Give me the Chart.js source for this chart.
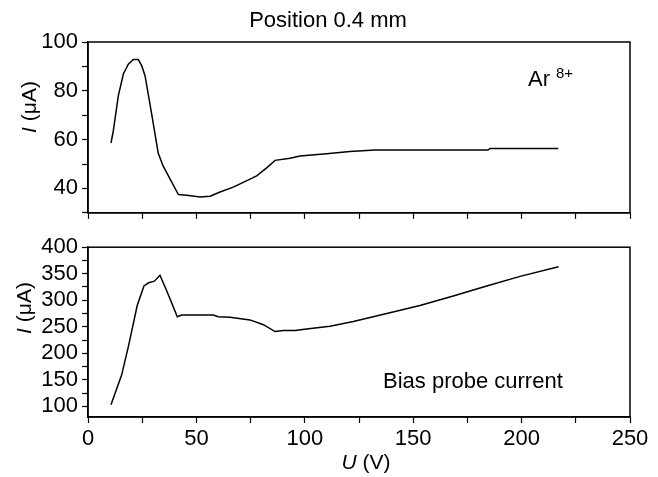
<!DOCTYPE html>
<html><head><meta charset="utf-8">
<script src="https://cdn.jsdelivr.net/npm/chart.js@4.4.1/dist/chart.umd.min.js"></script>
<style>
html,body{margin:0;padding:0;background:#fff;}
#wrap{position:relative;width:658px;height:477px;background:#fff;}
#c1{position:absolute;left:0;top:0;}
#c2{position:absolute;left:0;top:230px;}
</style></head><body>
<div id="wrap"><canvas id="c1" width="658" height="230"></canvas><canvas id="c2" width="658" height="247"></canvas></div>
<script>
// ---- data ----
const arU = [10.6, 11.7, 14, 16.3, 18.6, 20.9, 23.2, 24.8, 26.3, 29.4, 32.4, 34.7, 41.7, 45.5, 51.7, 56.3, 60.9, 67, 71.6, 77.8, 82.4, 86.3, 93.2, 97.8, 110, 120.8, 132.4, 184.5, 185.4, 216.9];
const arI = [58.6, 63.7, 78, 86.9, 90.9, 92.8, 92.8, 90.2, 86.2, 70.3, 54.4, 49.1, 37.5, 37.2, 36.5, 36.8, 38.5, 40.5, 42.5, 45.1, 48.4, 51.5, 52.4, 53.3, 54.2, 55.1, 55.7, 55.7, 56.4, 56.4];
const biasU = [10.6, 15.5, 18.7, 22.7, 25.8, 28, 30.6, 33.2, 36.3, 41.2, 43.2, 57.8, 60.1, 65.5, 74.7, 80.9, 86.3, 90.1, 95.5, 100.8, 111.6, 122.4, 137.8, 153.1, 168.5, 183.9, 199.3, 217];
const biasI = [103, 159, 214, 290, 327, 333, 336, 347, 318, 269, 272, 272, 269, 268, 263, 254, 241, 243, 243, 246, 251, 260, 275, 290, 308, 327, 345, 363];
const xTickLabels = [0, 50, 100, 150, 200, 250];
const topYTickLabels = [40, 60, 80, 100];
const botYTickLabels = [100, 150, 200, 250, 300, 350, 400];

const FONT = "'Liberation Sans', Arial, sans-serif";

function drawMixed(ctx, x, y, parts, rot) {
  ctx.save();
  ctx.translate(x, y);
  if (rot) ctx.rotate(-Math.PI / 2);
  ctx.fillStyle = '#000';
  ctx.textBaseline = 'middle';
  ctx.textAlign = 'left';
  let total = 0;
  parts.forEach(p => { ctx.font = p.font; total += ctx.measureText(p.text).width; });
  let cur = -total / 2;
  parts.forEach(p => { ctx.font = p.font; ctx.fillText(p.text, cur, p.dy || 0); cur += ctx.measureText(p.text).width; });
  ctx.restore();
}

const boxPlugin = {
  id: 'box',
  afterDraw(chart) {
    const a = chart.chartArea, ctx = chart.ctx;
    ctx.save();
    ctx.strokeStyle = '#000';
    ctx.lineWidth = 1.5;
    ctx.strokeRect(a.left, a.top, a.right - a.left, a.bottom - a.top);
    ctx.restore();
  }
};

function xScale(showLabels) {
  return {
    type: 'linear', min: 0, max: 250,
    afterBuildTicks(s) { s.ticks = []; for (let v = 0; v <= 250; v += 25) s.ticks.push({ value: v }); },
    afterFit(s) { s.height = showLabels ? 60 : 13; },
    border: { display: true, color: '#000', width: 1.5 },
    grid: { drawOnChartArea: false, drawTicks: true, tickLength: 6, tickColor: '#000', tickWidth: 1.2 },
    ticks: {
      autoSkip: false, maxRotation: 0, padding: 3, color: '#000',
      font: { family: FONT, size: 22 },
      callback: v => (showLabels && xTickLabels.includes(v)) ? String(v) : ''
    }
  };
}

function yScale(min, max, step, labels) {
  return {
    type: 'linear', min: min, max: max,
    afterBuildTicks(s) { s.ticks = []; for (let v = Math.ceil(min / step) * step; v <= max; v += step) s.ticks.push({ value: v }); },
    afterFit(s) { s.width = 88; },
    border: { display: true, color: '#000', width: 1.5 },
    grid: { drawOnChartArea: false, drawTicks: true, tickLength: 6, tickColor: '#000', tickWidth: 1.2 },
    ticks: {
      autoSkip: false, padding: 4, color: '#000',
      font: { family: FONT, size: 22 },
      callback: v => labels.includes(v) ? String(v) : ''
    }
  };
}

function dataset(xs, ys) {
  return {
    data: xs.map((x, i) => ({ x: x, y: ys[i] })),
    borderColor: '#000', borderWidth: 1.5, pointRadius: 0, tension: 0, fill: false
  };
}

const topTexts = {
  id: 'topTexts',
  afterDraw(chart) {
    const ctx = chart.ctx;
    ctx.save();
    ctx.fillStyle = '#000';
    ctx.font = '22px ' + FONT;
    ctx.textAlign = 'center';
    ctx.textBaseline = 'middle';
    ctx.fillText('Position 0.4 mm', 328, 21);
    ctx.textAlign = 'left';
    ctx.textBaseline = 'alphabetic';
    ctx.font = '22px ' + FONT;
    ctx.fillText('Ar', 528, 86);
    ctx.font = '15px ' + FONT;
    ctx.fillText('8+', 556, 78);
    ctx.restore();
    drawMixed(ctx, 30, 107, [
      { text: 'I', font: 'italic 21px ' + FONT },
      { text: ' (\u03BCA)', font: '21px ' + FONT }
    ], true);
  }
};

const botTexts = {
  id: 'botTexts',
  afterDraw(chart) {
    const ctx = chart.ctx;
    ctx.save();
    ctx.fillStyle = '#000';
    ctx.font = '22px ' + FONT;
    ctx.textAlign = 'left';
    ctx.textBaseline = 'alphabetic';
    ctx.fillText('Bias probe current', 383, 158);
    ctx.restore();
    drawMixed(ctx, 25, 78, [
      { text: 'I', font: 'italic 21px ' + FONT },
      { text: ' (\u03BCA)', font: '21px ' + FONT }
    ], true);
    drawMixed(ctx, 366, 233, [
      { text: 'U', font: 'italic 21px ' + FONT },
      { text: ' (V)', font: '21px ' + FONT }
    ], false);
  }
};

const common = {
  responsive: false, animation: false, devicePixelRatio: 1,
  plugins: { legend: { display: false }, tooltip: { enabled: false } }
};

new Chart(document.getElementById('c1'), {
  type: 'line',
  data: { datasets: [dataset(arU, arI)] },
  options: Object.assign({}, common, {
    layout: { padding: { left: 0, right: 28, top: 42, bottom: 0 } },
    scales: { x: xScale(false), y: yScale(30, 100, 10, topYTickLabels) }
  }),
  plugins: [boxPlugin, topTexts]
});

new Chart(document.getElementById('c2'), {
  type: 'line',
  data: { datasets: [dataset(biasU, biasI)] },
  options: Object.assign({}, common, {
    layout: { padding: { left: 0, right: 28, top: 11, bottom: 0 } },
    scales: { x: xScale(true), y: yScale(80, 400, 25, botYTickLabels) }
  }),
  plugins: [boxPlugin, botTexts]
});
</script>
</body></html>
